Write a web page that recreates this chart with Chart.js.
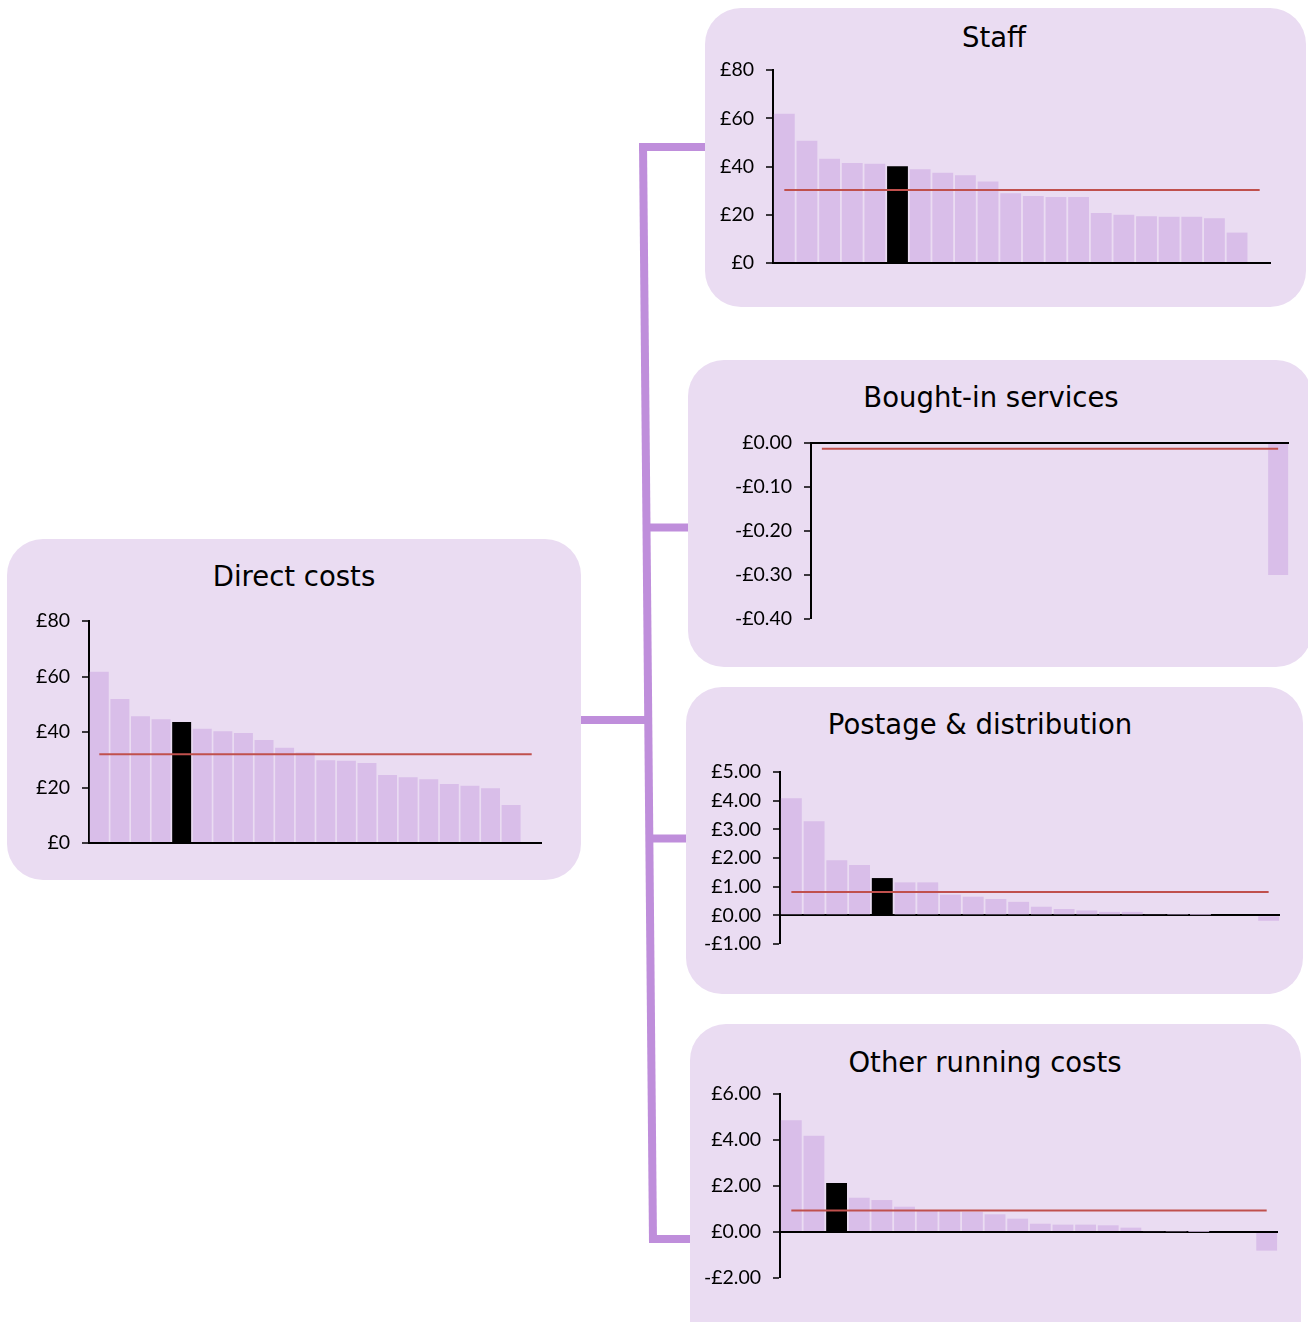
<!DOCTYPE html>
<html><head><meta charset="utf-8">
<script src="https://cdn.jsdelivr.net/npm/chart.js@4/dist/chart.umd.min.js"></script>
<style>
html,body{margin:0;padding:0;background:#fff;width:1308px;height:1322px;overflow:hidden;position:relative}
.panel{position:absolute;background:#eadcf2;border-radius:36px}
.title{position:absolute;font-family:"DejaVu Sans",Verdana,sans-serif;font-size:27.5px;color:#000;transform:translate(-50%,-50%);white-space:nowrap}
canvas{position:absolute}
svg{position:absolute;left:0;top:0}
</style></head><body>
<svg width="1308" height="1322">
  <g stroke="#bf8edb" stroke-width="8" fill="none" stroke-linecap="butt">
    <line x1="643" y1="143" x2="653" y2="1243"/>
    <line x1="639" y1="147" x2="706" y2="147"/>
    <line x1="646" y1="527.5" x2="689" y2="527.5"/>
    <line x1="580" y1="720" x2="649" y2="720"/>
    <line x1="650" y1="838.5" x2="687" y2="838.5"/>
    <line x1="649" y1="1239" x2="691" y2="1239"/>
  </g>
</svg>
<div class="panel" style="left:705px;top:8px;width:601px;height:299px"></div>
<div class="panel" style="left:688px;top:360px;width:624px;height:307px"></div>
<div class="panel" style="left:686px;top:687px;width:617px;height:307px"></div>
<div class="panel" style="left:690px;top:1024px;width:611px;height:340px"></div>
<div class="panel" style="left:7px;top:539px;width:574px;height:341px"></div>
<div class="title" style="left:994px;top:37px">Staff</div>
<div class="title" style="left:991px;top:397px">Bought-in services</div>
<div class="title" style="left:980px;top:724px">Postage &amp; distribution</div>
<div class="title" style="left:985px;top:1062px">Other running costs</div>
<div class="title" style="left:294px;top:576px">Direct costs</div>
<canvas id="cStaff"></canvas>
<canvas id="cBought"></canvas>
<canvas id="cPostage"></canvas>
<canvas id="cOther"></canvas>
<canvas id="cDirect"></canvas>
<script>
// ---- data ----
const categories = ['1','2','3','4','5','6','7','8','9','10','11','12','13','14','15','16','17','18','19','20','21','22'];

const directValues = [61.7, 51.9, 45.7, 44.6, 43.6, 41.2, 40.3, 39.6, 37.1, 34.3, 32.6, 29.8, 29.6, 28.8, 24.5, 23.7, 23.0, 21.3, 20.6, 19.7, 13.7, null];
const directAverage = 32.0;
const directHighlight = 4;
const directTickLabels = ['£0', '£20', '£40', '£60', '£80'];

const staffValues = [61.9, 50.7, 43.2, 41.5, 41.1, 40.1, 38.9, 37.4, 36.4, 33.8, 28.9, 27.8, 27.4, 27.4, 20.7, 20.0, 19.4, 19.2, 19.2, 18.6, 12.6, null];
const staffAverage = 30.3;
const staffHighlight = 5;
const staffTickLabels = ['£0', '£20', '£40', '£60', '£80'];

const boughtValues = [0, 0, 0, 0, 0, 0, 0, 0, 0, 0, 0, 0, 0, 0, 0, 0, 0, 0, 0, 0, 0, -0.30];
const boughtAverage = -0.013;
const boughtHighlight = -1;
const boughtTickLabels = ['-£0.40', '-£0.30', '-£0.20', '-£0.10', '£0.00'];

const postageValues = [4.08, 3.28, 1.92, 1.76, 1.30, 1.15, 1.15, 0.72, 0.65, 0.57, 0.47, 0.30, 0.22, 0.17, 0.12, 0.12, 0.03, 0.02, 0.01, 0, 0, -0.19];
const postageAverage = 0.81;
const postageHighlight = 4;
const postageTickLabels = ['-£1.00', '£0.00', '£1.00', '£2.00', '£3.00', '£4.00', '£5.00'];

const otherValues = [4.86, 4.19, 2.13, 1.49, 1.39, 1.10, 0.93, 0.91, 0.88, 0.77, 0.58, 0.36, 0.32, 0.32, 0.29, 0.19, 0.04, 0.03, 0.01, 0, 0, -0.81];
const otherAverage = 0.93;
const otherHighlight = 2;
const otherTickLabels = ['-£2.00', '£0.00', '£2.00', '£4.00', '£6.00'];

// ---- drawing ----
const BAR = '#d9bee9', HI = '#000000', AVG = '#c0504d';
const AXW = 90, PADT = 16, PADR = 6;

function makeChart(id, values, avg, hi, tickLabels, min, max, step, box) {
  const cv = document.getElementById(id);
  const w = box.xEnd - box.axisX + AXW + PADR;
  const h = box.yBottom - box.yTop + PADT * 2;
  cv.width = w; cv.height = h;
  cv.style.left = (box.axisX - AXW) + 'px';
  cv.style.top = (box.yTop - PADT) + 'px';
  new Chart(cv, {
    type: 'bar',
    data: {
      labels: categories,
      datasets: [
        { type: 'line', data: categories.map(() => avg), borderColor: AVG, borderWidth: 2, pointRadius: 0, fill: false, order: 0 },
        { type: 'bar', data: values, backgroundColor: values.map((v, i) => i === hi ? HI : BAR), barPercentage: 0.92, categoryPercentage: 1, order: 1 }
      ]
    },
    options: {
      responsive: false, animation: false,
      layout: { padding: { left: 0, right: PADR, top: PADT, bottom: PADT } },
      plugins: { legend: { display: false }, tooltip: { enabled: false }, title: { display: false } },
      scales: {
        x: { display: false, offset: true },
        y: {
          min: min, max: max, z: 1,
          afterFit: s => { s.width = AXW; s.paddingTop = 0; s.paddingBottom = 0; },
          ticks: { stepSize: step, color: '#000', padding: 12, font: { family: 'Lato', size: 19.5 },
                   callback: (v, i) => tickLabels[i] },
          grid: {
            drawOnChartArea: true, drawTicks: true, tickLength: 7, tickColor: '#000', tickWidth: 1.5,
            color: c => (c.tick && Math.abs(c.tick.value) < 1e-9) ? '#000' : 'rgba(0,0,0,0)',
            lineWidth: c => (c.tick && Math.abs(c.tick.value) < 1e-9) ? 2 : 0
          },
          border: { display: true, color: '#000', width: 2 }
        }
      }
    }
  });
}

makeChart('cStaff', staffValues, staffAverage, staffHighlight, staffTickLabels, 0, 80, 20, { axisX: 773, yTop: 70, yBottom: 263, xEnd: 1271 });
makeChart('cBought', boughtValues, boughtAverage, boughtHighlight, boughtTickLabels, -0.4, 0, 0.1, { axisX: 811, yTop: 443, yBottom: 619, xEnd: 1289 });
makeChart('cPostage', postageValues, postageAverage, postageHighlight, postageTickLabels, -1, 5, 1, { axisX: 780, yTop: 772, yBottom: 944, xEnd: 1280 });
makeChart('cOther', otherValues, otherAverage, otherHighlight, otherTickLabels, -2, 6, 2, { axisX: 780, yTop: 1094, yBottom: 1278, xEnd: 1278 });
makeChart('cDirect', directValues, directAverage, directHighlight, directTickLabels, 0, 80, 20, { axisX: 89, yTop: 621, yBottom: 843, xEnd: 542 });
</script>
</body></html>
